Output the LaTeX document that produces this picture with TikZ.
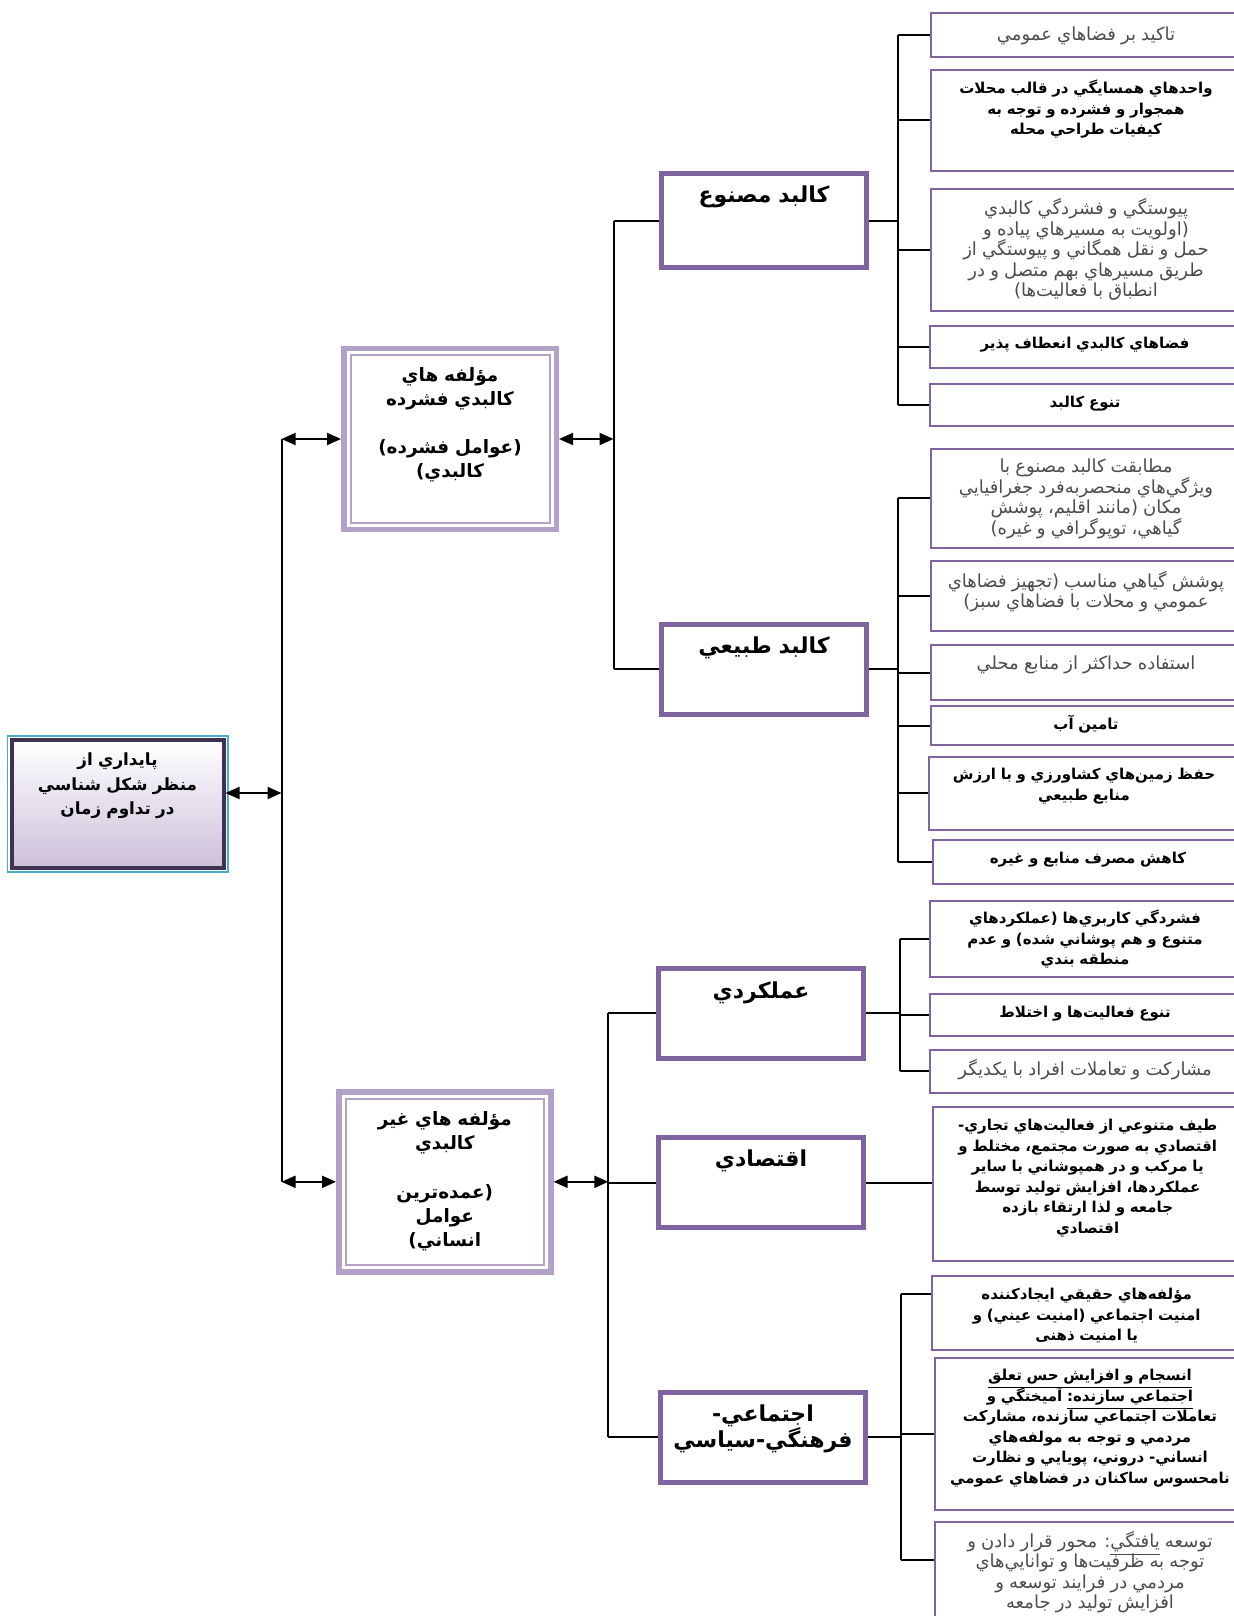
\documentclass[tikz,border=0pt]{standalone}
\usepackage{fontspec}
\TeXXeTstate=1
\newfontfamily\fafont[Script=Arabic,WordSpace=2.4]{DejaVu Sans}
\newfontfamily\fabold[Script=Arabic,WordSpace=0.9]{DejaVu Sans}
\usetikzlibrary{positioning,arrows.meta}
\definecolor{subline}{HTML}{8064A2}
\definecolor{mainline}{HTML}{B3A2C7}
\definecolor{rootline}{HTML}{3F3151}
\definecolor{rootcyan}{HTML}{4BACC6}
\definecolor{rootfill}{HTML}{CCC0DA}
\newcommand{\fal}[1]{\strut\beginR #1\endR}
\newcommand{\undl}[1]{\underline{\beginR #1\endR}}
\lineskiplimit=-\maxdimen

\begin{document}
\begin{tikzpicture}[x=0.5pt,y=-0.5pt,inner sep=0pt,outer sep=0pt,line width=1pt,
>={Triangle[length=7pt,width=6pt]},
rootbox/.style={draw=rootline,line width=2pt,top color=white,bottom color=rootfill,outer sep=1pt,
  minimum width=106pt,minimum height=64pt,
  preaction={draw=rootcyan,line width=5pt},preaction={draw=white,line width=3.4pt}},
mainbox/.style={fill=white,draw=mainline,line width=1pt,double=white,double distance=1.5pt,
  outer sep=3.5pt,preaction={draw=mainline,line width=7pt}},
subbox/.style={fill=white,draw=subline,line width=2.5pt,outer sep=1.25pt,minimum width=102.5pt,minimum height=45pt},
leafbox/.style={fill=white,draw=subline,line width=1pt,outer sep=0.5pt,minimum width=155pt},
roottext/.style={font=\fabold\bfseries\fontsize{8.4}{12.4}\selectfont,align=center},
maintext/.style={font=\fabold\bfseries\fontsize{9.2}{12}\selectfont,align=center},
subtext/.style={font=\fabold\bfseries\fontsize{11}{13}\selectfont,align=center},
leafbold/.style={font=\fabold\bfseries\fontsize{7.5}{10.25}\selectfont,align=center},
leaflight/.style={font=\fafont\fontsize{9}{10.25}\selectfont,align=center,text=black!70}]

\useasboundingbox (0,0) rectangle (1234,1616);

% root and the two main groups
\draw (117.5,804) node[rootbox] (root) {};
\node[roottext,below=5pt of root.north] (roott) {\fal{پايداري از}\\\fal{منظر شكل شناسي}\\\fal{در تداوم زمان}};
\draw (450,439) node[mainbox,minimum width=102pt,minimum height=86.25pt] (a) {};
\node[maintext,below=9.6pt of a.north] (at) {\fal{مؤلفه هاي}\\\fal{كالبدي فشرده}\\[12pt]\fal{(عوامل فشرده)}\\\fal{كالبدي)}};
\draw (444.8,1181.8) node[mainbox,minimum width=101.8pt,minimum height=85.75pt] (b) {};
\node[maintext,below=9.9pt of b.north] (bt) {\fal{مؤلفه هاي غير}\\\fal{كالبدي}\\[12.4pt]\fal{(عمده‌ترين}\\\fal{عوامل}\\\fal{انساني)}};

% sub groups
\draw (764,220.5) node[subbox,minimum height=47pt] (c1) {};
\node[subtext,below=6.85pt of c1.north] (c1t) {\fal{كالبد مصنوع}};
\draw (764,669) node[subbox] (c2) {};
\node[subtext,below=6.85pt of c2.north] (c2t) {\fal{كالبد طبيعي}};
\draw (761,1013) node[subbox] (c3) {};
\node[subtext,below=7.6pt of c3.north] (c3t) {\fal{عملكردي}};
\draw (761,1182.5) node[subbox] (c4) {};
\node[subtext,below=6.85pt of c4.north] (c4t) {\fal{اقتصادي}};
\draw (763,1437.3) node[subbox] (c5) {};
\node[subtext,below=6.7pt of c5.north] (c5t) {\fal{اجتماعي-}\\\fal{فرهنگي-سياسي}};

% leaves of c1
\draw (1086,35) node[leafbox,minimum height=21.65pt] (l1) {};
\node[leaflight,below=6.75pt of l1.north] (l1t) {\fal{تاكيد بر فضاهاي عمومي}};
\draw (1086,120.5) node[leafbox,minimum height=50.5pt] (l2) {};
\node[leafbold,below=5.3pt of l2.north] (l2t) {\fal{واحدهاي همسايگي در قالب محلات}\\\fal{همجوار و فشرده و توجه به}\\\fal{كيفيات طراحي محله}};
\draw (1086,250) node[leafbox,minimum height=61.35pt] (l3) {};
\node[leaflight,below=5.5pt of l3.north] (l3t) {\fal{پيوستگي و فشردگي كالبدي}\\\fal{(اولويت به مسيرهاي پياده و}\\\fal{حمل و نقل همگاني و پيوستگي از}\\\fal{طريق مسيرهاي بهم متصل و در}\\\fal{انطباق با فعاليت‌ها)}};
\draw (1085,346.9) node[leafbox,minimum height=21.1pt] (l4) {};
\node[leafbold,below=4.8pt of l4.north] (l4t) {\fal{فضاهاي كالبدي انعطاف پذير}};
\draw (1085,404.65) node[leafbox,minimum height=21.15pt] (l5) {};
\node[leafbold,below=5.3pt of l5.north] (l5t) {\fal{تنوع كالبد}};

% leaves of c2
\draw (1086,498) node[leafbox,minimum height=49.5pt] (l6) {};
\node[leaflight,below=5.5pt of l6.north] (l6t) {\fal{مطابقت كالبد مصنوع با}\\\fal{ويژگي‌هاي منحصربه‌فرد جغرافيايي}\\\fal{مكان (مانند اقليم، پوشش}\\\fal{گياهي، توپوگرافي و غيره)}};
\draw (1086,596) node[leafbox,minimum height=35pt] (l7) {};
\node[leaflight,below=5.5pt of l7.north] (l7t) {\fal{پوشش گياهي مناسب (تجهيز فضاهاي}\\\fal{عمومي و محلات با فضاهاي سبز)}};
\draw (1086,672.7) node[leafbox,minimum height=27.3pt] (l8) {};
\node[leaflight,below=5.5pt of l8.north] (l8t) {\fal{استفاده حداكثر از منابع محلي}};
\draw (1086,725.7) node[leafbox,minimum height=19.7pt] (l9) {};
\node[leafbold,below=5.3pt of l9.north] (l9t) {\fal{تامين آب}};
\draw (1084,793.4) node[leafbox,minimum height=36.6pt] (l10) {};
\node[leafbold,below=4.8pt of l10.north] (l10t) {\fal{حفظ زمين‌هاي كشاورزي و با ارزش}\\\fal{منابع طبيعي}};
\draw (1088,861.8) node[leafbox,minimum height=21.8pt] (l11) {};
\node[leafbold,below=5.3pt of l11.north] (l11t) {\fal{كاهش مصرف منابع و غيره}};

% leaves of c3 and c4
\draw (1085,939.2) node[leafbox,minimum height=38.2pt] (l12) {};
\node[leafbold,below=4.8pt of l12.north] (l12t) {\fal{فشردگي كاربري‌ها (عملكردهاي}\\\fal{متنوع و هم پوشاني شده) و عدم}\\\fal{منطقه بندي}};
\draw (1085,1015) node[leafbox,minimum height=21pt] (l13) {};
\node[leafbold,below=5.3pt of l13.north] (l13t) {\fal{تنوع فعاليت‌ها و اختلاط}};
\draw (1085,1071.3) node[leafbox,minimum height=21.7pt] (l14) {};
\node[leaflight,below=5.5pt of l14.north] (l14t) {\fal{مشاركت و تعاملات افراد با يكديگر}};
\draw (1087.7,1184) node[leafbox,minimum height=77pt] (l15) {};
\node[leafbold,below=5.3pt of l15.north] (l15t) {\fal{طيف متنوعي از فعاليت‌هاي تجاري-}\\\fal{اقتصادي به صورت مجتمع، مختلط و}\\\fal{يا مركب و در همپوشاني با ساير}\\\fal{عملكردها، افزايش توليد توسط}\\\fal{جامعه و لذا ارتقاء بازده}\\\fal{اقتصادي}};

% leaves of c5
\draw (1086.7,1312.8) node[leafbox,minimum height=36.8pt] (l16) {};
\node[leafbold,below=5.3pt of l16.north] (l16t) {\fal{مؤلفه‌هاي حقيقي ايجادكننده}\\\fal{امنيت اجتماعي (امنيت عيني) و}\\\fal{يا امنيت ذهنی}};
\draw (1090,1434) node[leafbox,minimum height=76pt] (l17) {};
\node[leafbold,below=4.8pt of l17.north] (l17t) {\fal{\undl{انسجام و افزايش حس تعلق}}\\\fal{\undl{اجتماعي سازنده:} آميختگي و}\\\fal{تعاملات اجتماعي سازنده، مشاركت}\\\fal{مردمي و توجه به مولفه‌هاي}\\\fal{انساني- دروني، پويايي و نظارت}\\\fal{نامحسوس ساكنان در فضاهاي عمومي}};
\draw (1090,1591) node[leafbox,minimum height=69pt] (l18) {};
\node[leaflight,below=5pt of l18.north] (l18t) {\fal{توسعه \undl{يافتگي}: محور قرار دادن و}\\\fal{توجه به ظرفيت‌ها و توانايي‌هاي}\\\fal{مردمي در فرايند توسعه و}\\\fal{افزايش توليد در جامعه}};

% trunk and arrows
\coordinate (tr) at (281.5,0);
\coordinate (ta) at (613.5,0);
\coordinate (tb) at (608.3,0);
\coordinate (rootjoint) at ([yshift=5.5pt]root.east);
\draw (a.west -| tr) -- (b.west -| tr);
\draw[<->] (rootjoint) -- (rootjoint -| tr);
\draw[<->] (a.west -| tr) -- (a.west);
\draw[<->] (b.west -| tr) -- (b.west);
\draw[<->] (a.east) -- (a.east -| ta);
\draw[<->] (b.east) -- (b.east -| tb);
\draw (c1.west -| ta) -- (c2.west -| ta);
\draw (c3.west -| tb) -- (c5.west -| tb);
\foreach \sub in {c1,c2} \draw (\sub.west -| ta) -- (\sub.west);
\foreach \sub in {c3,c4,c5} \draw (\sub.west -| tb) -- (\sub.west);

% brackets to the leaves
\coordinate (br1) at (898,0);
\coordinate (br2) at (898,0);
\coordinate (br3) at (900,0);
\coordinate (br5) at (901,0);
\coordinate (l16in) at ([yshift=9.4pt]l16.west);
\coordinate (l18in) at ([yshift=15.5pt]l18.west);
\draw (c1.east) -- (c1.east -| br1);
\draw (l1.west -| br1) -- (l5.west -| br1);
\foreach \leaf in {l1,l2,l3,l4,l5} \draw (\leaf.west -| br1) -- (\leaf.west);
\draw (c2.east) -- (c2.east -| br2);
\draw (l6.west -| br2) -- (l11.west -| br2);
\foreach \leaf in {l6,l7,l8,l9,l10,l11} \draw (\leaf.west -| br2) -- (\leaf.west);
\draw (c3.east) -- (c3.east -| br3);
\draw (l12.west -| br3) -- (l14.west -| br3);
\foreach \leaf in {l12,l13,l14} \draw (\leaf.west -| br3) -- (\leaf.west);
\draw (c4.east) -- (c4.east -| l15.west);
\draw (c5.east) -- (c5.east -| br5);
\draw (l16in -| br5) -- (l18in -| br5);
\foreach \leaf in {l16in,l17.west,l18in} \draw (\leaf -| br5) -- (\leaf);
\end{tikzpicture}
\end{document}
